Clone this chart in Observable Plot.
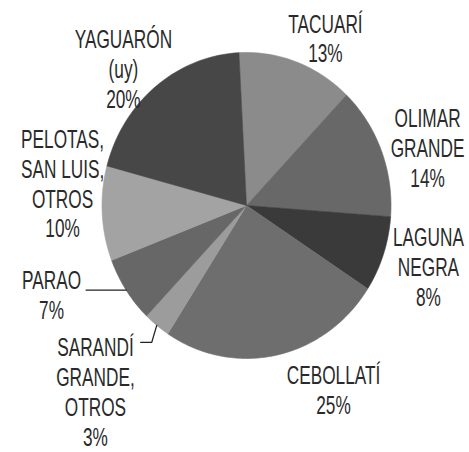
<!DOCTYPE html>
<html><head><meta charset="utf-8">
<script src="https://cdn.jsdelivr.net/npm/d3@7"></script>
<script src="https://cdn.jsdelivr.net/npm/@observablehq/plot@0.6"></script>
<style>
body{margin:0;background:#fff}
#chart{width:469px;height:452px}
</style>
</head><body><div id="chart"></div>
<script>
// ---- data ----
const names = ["TACUARÍ", "OLIMAR\nGRANDE", "LAGUNA\nNEGRA", "CEBOLLATÍ", "SARANDÍ\nGRANDE,\nOTROS", "PARAO", "PELOTAS,\nSAN LUIS,\nOTROS", "YAGUARÓN\n(uy)"];
const shares = [13, 14, 8, 25, 3, 7, 10, 20];
const sliceColors = ["#8b8b8b", "#686868", "#3a3a3a", "#6e6e6e", "#9c9c9c", "#676767", "#a3a3a3", "#474747"];

// ---- layout ----
const W = 469, H = 452;
const CX = 246, CY = 205, RX = 144.5, RY = 153;   // pie centre / radii in px
const startDeg = -3;
const labelAngle = [26.5, 73.2, 107.6, 153.4, 220.7, 246.7, 276.5, 316.4];
const labelRadius = [1.224, 1.309, 1.321, 1.345, 1.603, 1.469, 1.281, 1.235];

const rad = d => d * Math.PI / 180;
const total = d3.sum(shares);
let cum = 0;
const slices = shares.map((v, i) => {
  const a0 = startDeg + cum / total * 360;
  cum += v;
  const a1 = startDeg + cum / total * 360;
  return {i, name: names[i], a0, a1, mid: (a0 + a1) / 2, color: sliceColors[i]};
});
const slicePts = [];
for (const s of slices) {
  slicePts.push({k: s.i, x: 0, y: 0, color: s.color});
  const n = Math.max(2, Math.ceil(s.a1 - s.a0));
  for (let j = 0; j <= n; j++) {
    const a = rad(s.a0 + (s.a1 - s.a0) * j / n);
    slicePts.push({k: s.i, x: Math.sin(a), y: Math.cos(a), color: s.color});
  }
  slicePts.push({k: s.i, x: 0, y: 0, color: s.color});
}
const labels = slices.map(s => ({
  text: s.name + "\n" + shares[s.i] + "%",
  x: labelRadius[s.i] * Math.sin(rad(labelAngle[s.i])),
  y: labelRadius[s.i] * Math.cos(rad(labelAngle[s.i]))
}));
// leader lines (Parao, Sarandí)
const edge = s => ({x: Math.sin(rad(s.mid)), y: Math.cos(rad(s.mid))});
const leaders = [];
{
  const p = edge(slices[5]);
  leaders.push({k: 0, x: p.x, y: p.y}, {k: 0, x: p.x - 40 / RX, y: p.y});
  const q = edge(slices[4]);
  leaders.push({k: 1, x: q.x, y: q.y},
               {k: 1, x: q.x - 5 / RX, y: q.y - 17 / RY},
               {k: 1, x: q.x - 16 / RX, y: q.y - 17 / RY});
}

const chart = Plot.plot({
  width: W, height: H, margin: 0,
  x: {domain: [-CX / RX, (W - CX) / RX], axis: null},
  y: {domain: [-(H - CY) / RY, CY / RY], axis: null},
  color: {type: "identity"},
  marks: [
    Plot.line(slicePts, {x: "x", y: "y", z: "k", fill: "color", stroke: "color", strokeWidth: 0.6, curve: "linear"}),
    Plot.line(leaders, {x: "x", y: "y", z: "k", stroke: "#222", strokeWidth: 1.3, curve: "linear"}),
    Plot.text(labels, {x: "x", y: "y", text: "text", fontSize: 25, lineHeight: 1.19,
      fontFamily: "'Liberation Sans', Arial, sans-serif",
      fill: "#2a2a2a", textAnchor: "middle"})
  ]
});
d3.select(chart).selectAll("g[aria-label=text] text").each(function() {
  const t = this.getAttribute("transform") || "";
  this.setAttribute("transform", t + " scale(0.69,1)");
});
document.getElementById("chart").appendChild(chart);
</script>
</body></html>
